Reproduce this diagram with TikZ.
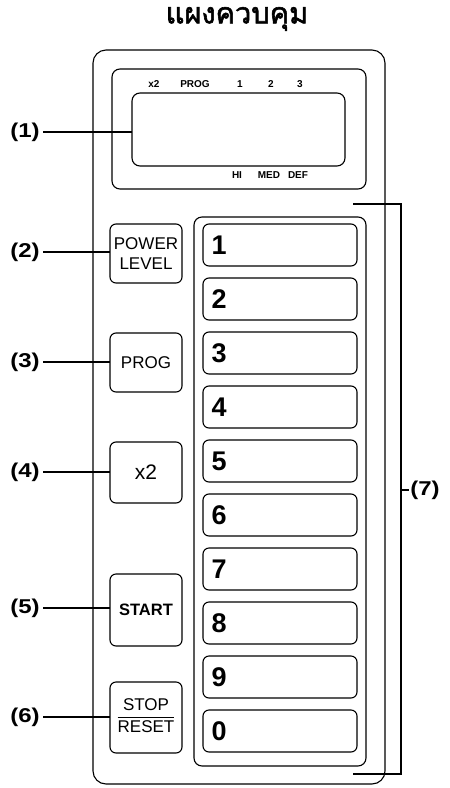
\documentclass[tikz,border=0pt]{standalone}
\usepackage{fontspec}
\setmainfont{Liberation Sans}
\newfontfamily\thaifont[Script=Thai,FakeBold=2]{Loma}
\begin{document}
\begin{tikzpicture}[x=1pt,y=-1pt,line width=1.1pt,
  panelbox/.style={draw,rounded corners=13pt,inner sep=0pt,outer sep=0pt},
  framebox/.style={draw,rounded corners=8pt,inner sep=0pt,outer sep=0pt},
  btn/.style={draw,rounded corners=6pt,minimum width=72pt,inner sep=0pt,outer sep=0pt,align=center,font=\fontsize{17}{20}\selectfont},
  keybox/.style={draw,rounded corners=6pt,minimum width=154pt,minimum height=42pt,inner sep=0pt,outer sep=0pt},
  digit/.style={font=\bfseries\fontsize{27}{30}\selectfont,inner sep=0pt,anchor=west},
  callout/.style={font=\bfseries\fontsize{20}{24}\selectfont,inner sep=3pt},
  lcdlab/.style={font=\bfseries\fontsize{10}{12}\selectfont,inner sep=0pt},
  conn/.style={line width=1.1pt}]
\useasboundingbox (0,0) rectangle (450,788);

% title
\node[font=\thaifont\fontsize{29}{32}\selectfont,inner sep=0pt] (title) at (237,19) {แผงควบคุม};

% outer panel
\node[panelbox,minimum width=292pt,minimum height=734pt] (panel) at (239,417) {};

% display
\node[framebox,minimum width=254pt,minimum height=120pt] (dframe) at (239,129) {};
\node[framebox,minimum width=213pt,minimum height=73pt] (lcd) at (238.5,129.5) {};
\node[lcdlab] (lx2) at (154,84) {x2};
\node[lcdlab] (lprog) at (195,84) {PROG};
\node[lcdlab] (lone) at (240,84) {1};
\node[lcdlab] (ltwo) at (271,84) {2};
\node[lcdlab] (lthree) at (300,84) {3};
\node[lcdlab] (lhi) at (237,175) {HI};
\node[lcdlab] (lmed) at (269,175) {MED};
\node[lcdlab] (ldef) at (298,175) {DEF};

% left buttons
\node[btn,minimum height=59pt] (bpower) at (146,253.5) {POWER\\LEVEL};
\node[btn,minimum height=59pt] (bprog) at (146,362.5) {PROG};
\node[btn,minimum height=61pt,font=\fontsize{21}{24}\selectfont] (bx2) at (146,472.5) {x2};
\node[btn,minimum height=72pt,font=\bfseries\fontsize{16.5}{19}\selectfont] (bstart) at (146,610) {START};
\node[btn,minimum height=71pt] (bstop) at (146,717.5) {\setlength{\arrayrulewidth}{1.1pt}\renewcommand{\arraystretch}{1.05}\begin{tabular}{@{}c@{}}STOP\\\hline RESET\end{tabular}};

% number pad
\node[framebox,minimum width=172pt,minimum height=549pt] (pad) at (280,491.5) {};
\foreach \d [count=\i from 0] in {1,2,3,4,5,6,7,8,9,0}{
  \node[keybox] (k\d) at (280,{245+54*\i}) {};
  \node[digit] (d\d) at ([xshift=8pt]k\d.west) {\d};
}

% callouts
\node[callout] (c1) at (25,132) {\scalebox{1.2}[1]{(1)}};
\node[callout] (c2) at (25,252) {\scalebox{1.2}[1]{(2)}};
\node[callout] (c3) at (25,362) {\scalebox{1.2}[1]{(3)}};
\node[callout] (c4) at (25,472) {\scalebox{1.2}[1]{(4)}};
\node[callout] (c5) at (25,608) {\scalebox{1.2}[1]{(5)}};
\node[callout] (c6) at (25,717) {\scalebox{1.2}[1]{(6)}};
\node[callout,inner sep=1pt] (c7) at (425,490) {\scalebox{1.2}[1]{(7)}};

\draw[conn] (c1.east) -- (c1.east -| lcd.west);
\draw[conn] (c2.east) -- (c2.east -| bpower.west);
\draw[conn] (c3.east) -- (c3.east -| bprog.west);
\draw[conn] (c4.east) -- (c4.east -| bx2.west);
\draw[conn] (c5.east) -- (c5.east -| bstart.west);
\draw[conn] (c6.east) -- (c6.east -| bstop.west);

% bracket (7)
\coordinate (bt) at (353,204);
\coordinate (btr) at (401,204);
\coordinate (bbr) at (401,774);
\coordinate (bb) at (353,774);
\draw[line width=1.1pt] (bt) -- (btr) -- (bbr) -- (bb);
\draw[conn] (btr |- c7.west) -- (c7.west);
\end{tikzpicture}
\end{document}
